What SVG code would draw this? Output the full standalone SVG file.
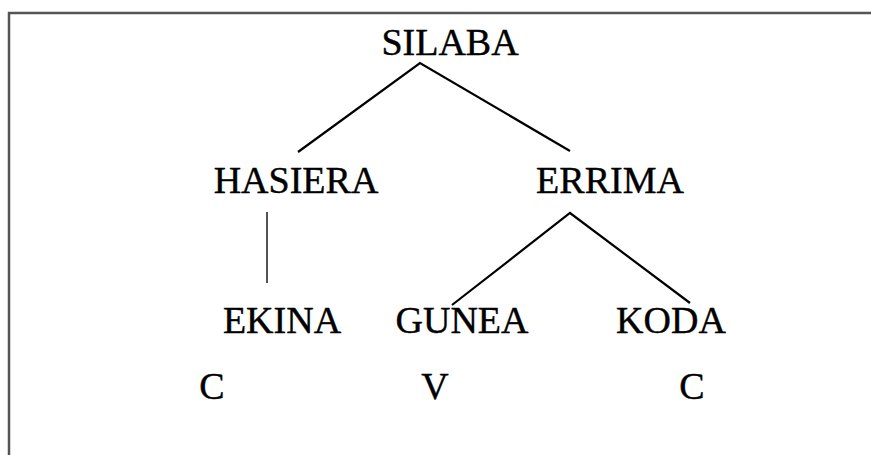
<svg xmlns="http://www.w3.org/2000/svg" width="871" height="455" viewBox="0 0 871 455">
<style>
.t{font-family:"Liberation Serif","Times New Roman",serif;font-size:38px;fill:#000;stroke:#000;stroke-width:0.4;text-anchor:middle}
.e{stroke:#000;stroke-width:2.2;fill:none}
</style>
<rect width="871" height="455" fill="#fff"/>
<path d="M9 455V13H871" fill="none" stroke="#555" stroke-width="2.5"/>
<g id="connectors">
<path class="e" d="M298 152L420 63L570 151"/>
<path d="M267 212V283" stroke="#555" stroke-width="2"/>
<path class="e" d="M452 305L570 213L690 303"/>
</g>
<g id="silaba"><text class="t" x="450" y="55">SILABA</text></g>
<g id="hasiera"><text class="t" x="296" y="193">HASIERA</text></g>
<g id="errima"><text class="t" x="610" y="193">ERRIMA</text></g>
<g id="ekina"><text class="t" x="282" y="333">EKINA</text></g>
<g id="gunea"><text class="t" x="462" y="333">GUNEA</text></g>
<g id="koda"><text class="t" x="671" y="333">KODA</text></g>
<g id="c1"><text class="t" x="212" y="399">C</text></g>
<g id="v"><text class="t" x="435" y="399">V</text></g>
<g id="c2"><text class="t" x="692" y="399">C</text></g>
</svg>
